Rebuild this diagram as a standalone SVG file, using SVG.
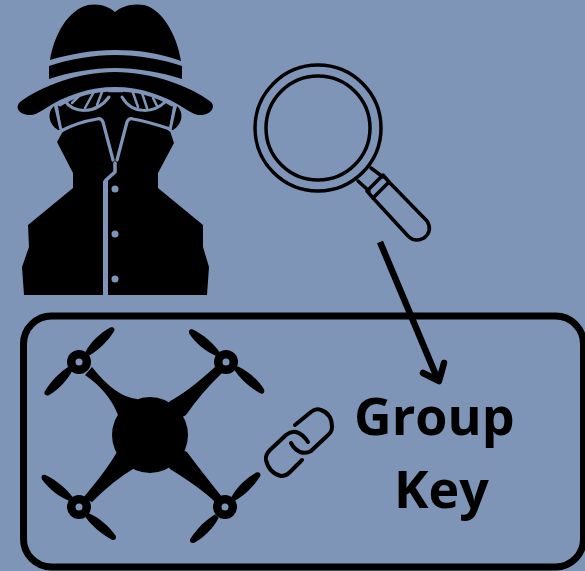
<svg xmlns="http://www.w3.org/2000/svg" width="585" height="571" viewBox="0 0 585 571">
<defs>
<style>
.k{fill:#000}
.h{fill:#7f95b7}
.g{fill:none;stroke:#7f95b7;stroke-linecap:round;stroke-linejoin:round}
.o{fill:none;stroke:#000;stroke-linecap:round;stroke-linejoin:round}
text{font-family:"Open Sans","Noto Sans",sans-serif;font-weight:700;font-size:52px;fill:#000}
</style>
<path id="blade" class="k" d="M0 -2.500C10 -6 24 -6.500 35 -3.500C38 -2 38 1 35 2C24 5 10 5 0 2.500Z"/>
</defs>
<rect width="585" height="571" fill="#7f95b7"/>
<g id="spy">
<path class="k" d="M50 60C54 35 68 10 88 5C100 3 109 7 115 12C121 7 131 3 144 5C162 9 177 35 181 61C160 53 137 50 115 50C93 50 70 54 50 60Z"/>
<path class="k" d="M49 66C70 59 93 55 115 55C138 55 161 59 182 66L182 79C160 72 137 68 115 68C93 68 70 72 49 79Z"/>
<path class="k" d="M20 102C42 86 78 72 115 72C152 72 190 86 211 102C216 107 211 115 200 115C196 115 192 113 187 110C165 95 140 87 115 87C90 87 65 95 43 110C38 113 34 115 30 115C20 115 14 108 20 102Z"/>
<path class="k" d="M54 106C47 112 48 124 58 130L62 130ZM177 106C184 112 183 124 173 130L169 130Z"/>
<path class="k" d="M58 106C75 95 95 90 115 90C136 90 156 95 173 106L169 130L120 175L110 175L62 132Z"/>
<path class="k" d="M57 142L62 133L100 120L106 120L114 165L114 172L103 181L103 295L24 295L22 267L29 247L28 225L73 188L73 173Z"/>
<path class="k" d="M174 143L170 131L130 120L124 120L116 165L108 181L108 295L207 295L209 267L203 247L203 225L158 188L158 173Z"/>
<path class="g" stroke-width="3.200" d="M61 131C72 125 85 121 97 119C100 118 102 120 103 122L113 160"/>
<path class="g" stroke-width="3.200" d="M170 129C158 125 145 121 133 119C130 118 128 120 127 122L117 160"/>
<path class="g" stroke-width="3.500" d="M115 163L115 172L106 180L106 295"/>
<path class="g" stroke-width="3" d="M56 108L61 130M175 107L170 130"/>
<path class="g" stroke-width="3" d="M60 105C75 95 95 90 115 90C136 90 156 95 172 105"/>
<path class="g" stroke-width="3" d="M66 102C72 112 95 116 109 97M122 97C133 116 155 112 165 102"/>
<path class="g" stroke-width="2.500" d="M109 91L122 91M72 103L80 95M85 108L95 90M97 105L102 92M132 90L138 107M142 93L147 108M153 98L157 106"/>
<circle class="h" cx="115" cy="189" r="3.500"/>
<circle class="h" cx="115" cy="234" r="3.500"/>
<circle class="h" cx="115" cy="279" r="3.500"/>
</g>
<g id="magnifier" class="o" stroke-width="3.500">
<circle cx="318" cy="128" r="63"/>
<circle cx="318" cy="128" r="52"/>
<path d="M358 181L369 191M371 168L383 177"/>
<path d="M383 175L367 191L373 198L389 182Z"/>
<path d="M373 198L408 236Q415 243 424 238Q433 231 427 221L389 182"/>
</g>
<g id="panel">
<rect x="23.500" y="316" width="560" height="251" rx="28" fill="none" stroke="#000" stroke-width="7"/>
</g>
<g id="drone">
<circle class="k" cx="150" cy="435" r="38"/>
<path class="k" d="M92 367Q115.500 397 137 399L150 435L118 415Q108.500 391 85 375Z"/>
<path class="k" d="M215 367Q187.500 392 170 401L150 435L186 415Q202 392 222 373Z"/>
<path class="k" d="M83 498Q106 471 117 452L150 435L133 469Q113.500 480.500 92 502Z"/>
<path class="k" d="M222 497Q201.500 471.500 187 452L150 435L170 469Q201.500 488.500 215 502Z"/>
<g id="rotor-tl"><circle class="k" cx="79" cy="362" r="12"/><circle class="h" cx="79" cy="362" r="3.500"/><use href="#blade" transform="translate(87 354) rotate(-43)"/><use href="#blade" transform="translate(71 368) rotate(135)"/></g>
<g id="rotor-tr"><circle class="k" cx="226" cy="362" r="12"/><circle class="h" cx="226" cy="362" r="3.500"/><use href="#blade" transform="translate(218 354) rotate(-139)"/><use href="#blade" transform="translate(236 368) rotate(43)"/></g>
<g id="rotor-bl"><circle class="k" cx="79" cy="507" r="12"/><circle class="h" cx="79" cy="507" r="3.500"/><use href="#blade" transform="translate(71 499) rotate(-140)"/><use href="#blade" transform="translate(87 515) rotate(41.500)"/></g>
<g id="rotor-br"><circle class="k" cx="225" cy="507" r="12"/><circle class="h" cx="225" cy="507" r="3.500"/><use href="#blade" transform="translate(233 499) rotate(-43)"/><use href="#blade" transform="translate(217 516) rotate(136)"/></g>
</g>
<g id="link" class="o" stroke-width="4">
<path d="M295 425L311 412Q316 408 321 410Q332 414 332 427Q332 432 327 436L311 451Q306 454 300 452Q294 449 291 443"/>
<path d="M308 442Q303 434 296 432Q291 431 286 435L270 450Q265 455 266 460Q269 473 281 476Q286 476 290 472L302 460"/>
</g>
<g id="connectors">
<line x1="380" y1="242" x2="438" y2="380" stroke="#000" stroke-width="6.500"/>
<path class="o" stroke-width="6.500" d="M423 373L439 381L444 363"/>
</g>
<g id="labels">
<text x="354" y="435">Group</text>
<text x="394" y="508">Key</text>
</g>
</svg>
